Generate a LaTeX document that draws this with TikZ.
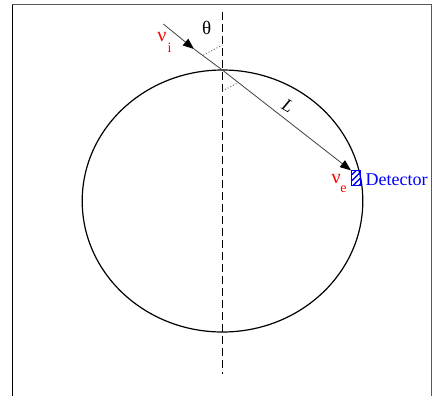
\documentclass[tikz,border=0pt]{standalone}
\usepackage{fontspec}
\setmainfont{Liberation Serif}
\usetikzlibrary{arrows.meta,patterns.meta}
\begin{document}
\begin{tikzpicture}[x=1pt,y=-1pt,
  frameline/.style={line width=1.3pt},
  ray/.style={draw=black!75,line width=0.8pt},
  tipstyle/.style={-{Triangle[length=11pt,width=8.5pt,color=black,fill=black]}},
  marker/.style={draw=black!60,line width=0.9pt,dash pattern=on 1pt off 2pt},
  redtxt/.style={text=red,inner sep=0pt},
  lbl/.style={inner sep=0pt}]
\useasboundingbox (0,0) rectangle (433,396);
% frame
\draw[frameline,black!65] (12.3,4.7) -- (431.7,4.7);
\draw[frameline,black] (12.3,4.7) -- (12.3,396);
\draw[frameline,black!65] (431.7,4.7) -- (431.7,396);
% earth
\coordinate (c) at (222.5,201);
\draw[line width=1.2pt] (c) ellipse [x radius=140.3, y radius=131];
% vertical dashed axis
\coordinate (vt) at (222.3,12);
\coordinate (vb) at (222.3,374);
\draw[line width=0.9pt,dash pattern=on 8pt off 4pt] (vt) -- (vb);
% ray
\coordinate (src) at (163.3,24);
\coordinate (mid) at (194,49);
\coordinate (entry) at (222.3,70);
\coordinate (det) at (351,170.4);
\draw[ray,tipstyle] (src) -- (mid);
\draw[ray] (mid) -- (entry);
\draw[ray,tipstyle] (entry) -- (det);
% angle markers
\coordinate (m1) at (203.3,55.2);
\coordinate (m2) at (222.3,45);
\coordinate (m3) at (222.3,91);
\coordinate (m4) at (238.5,82.5);
\draw[marker] (m1) -- (m2);
\draw[marker] (m3) -- (m4);
% detector
\node[draw=blue,line width=1pt,minimum width=9pt,minimum height=15pt,inner sep=0pt,
  pattern={Lines[angle=45,distance=4.2pt,line width=1.4pt]},pattern color=blue]
  (detbox) at (356.3,177.6) {};
\node[lbl,text=blue,anchor=west,font=\fontsize{18}{18}\selectfont] (dettxt) at (365.5,179.5) {Detector};
% labels
\node[lbl,font=\fontsize{19}{19}\selectfont] (theta) at (206.7,27.5) {θ};
\node[redtxt,font=\fontsize{20}{20}\selectfont] (nui) at (162,37) {ν};
\node[redtxt,font=\fontsize{14}{14}\selectfont] (nuisub) at (169.5,47.5) {i};
\node[redtxt,font=\fontsize{20}{20}\selectfont] (nue) at (336.2,179) {ν};
\node[redtxt,font=\fontsize{14}{14}\selectfont] (nuesub) at (343.5,189) {e};
\node[lbl,rotate=-30,font=\itshape\fontsize{18}{18}\selectfont] (len) at (288,106) {L};
\end{tikzpicture}
\end{document}
